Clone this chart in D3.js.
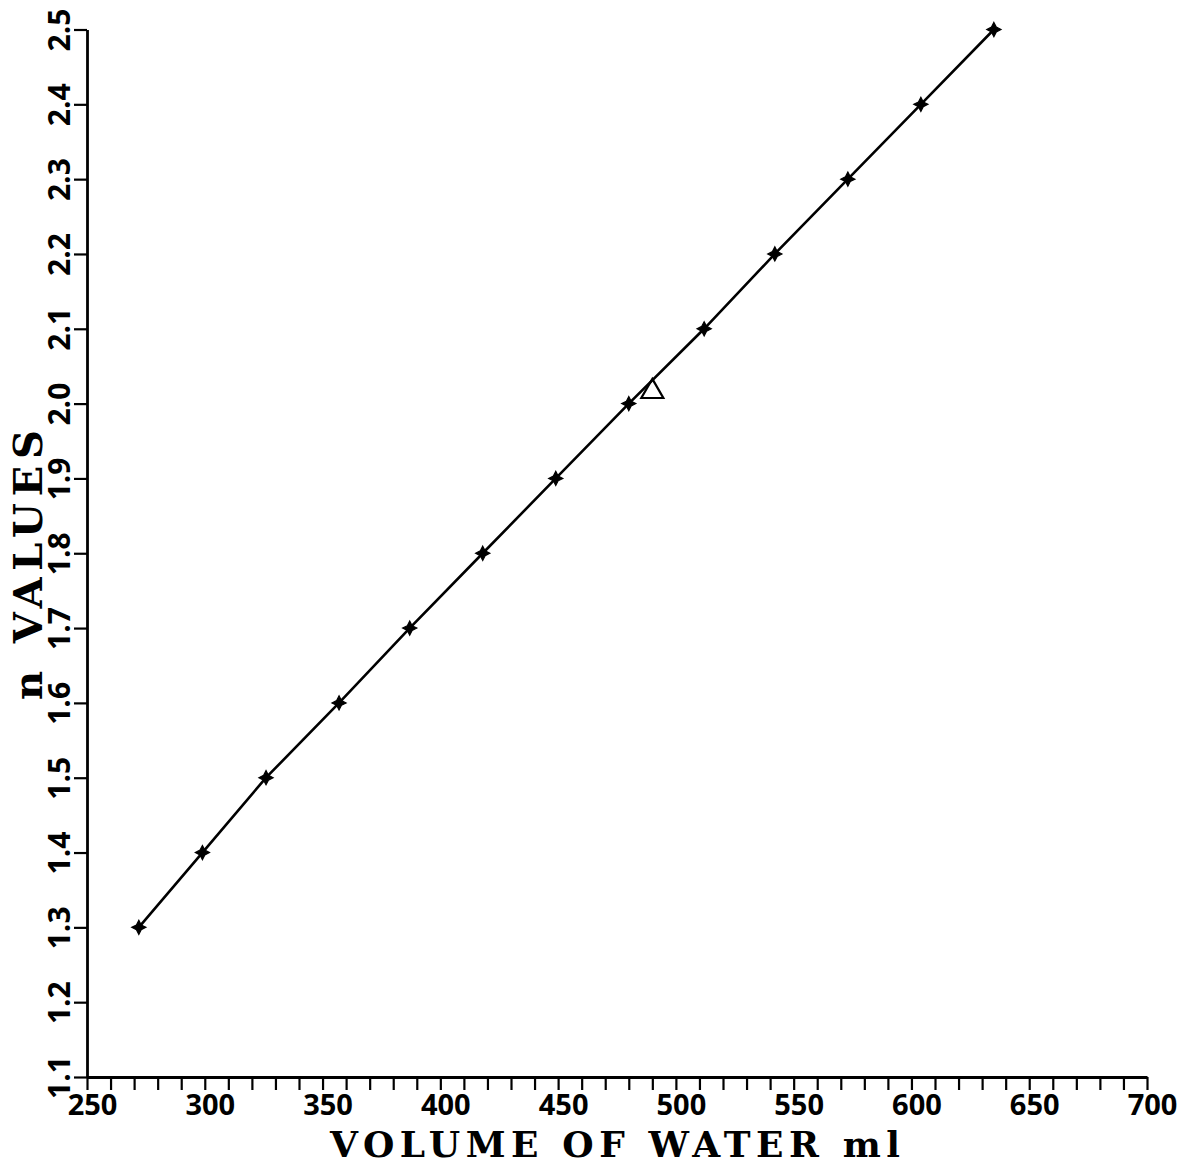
<!DOCTYPE html>
<html>
<head>
<meta charset="utf-8">
<script src="https://cdn.jsdelivr.net/npm/d3@7"></script>
<style>
  html, body { margin: 0; padding: 0; background: #fff; }
  svg { display: block; }
</style>
</head>
<body>
<script>
// "n" values against volume of water added
const volume = [272, 299, 326, 357, 387, 418, 449, 480, 512, 542, 573, 604, 635];
const nValue = [1.3, 1.4, 1.5, 1.6, 1.7, 1.8, 1.9, 2.0, 2.1, 2.2, 2.3, 2.4, 2.5];

// Single highlighted observation (open triangle)
const markVolume = [490];
const markN = [2.016];

// Axis ticks
const xTicks = d3.range(250, 701, 10);
const xLabelEvery = 50;
const yTicks = d3.range(11, 26).map(v => v / 10);

const xTitle = "VOLUME OF WATER ml";
const yTitle = "n VALUES";

const W = 1192, H = 1167;
const svg = d3.select("body").append("svg").attr("width", W).attr("height", H);

const x = d3.scaleLinear().domain([250, 700]).range([87, 1147]);
const y = d3.scaleLinear().domain([1.1, 2.5]).range([1077, 29.5]);

const tickFont = "'Open Sans', 'DejaVu Sans', sans-serif";
const titleFont = "'DejaVu Serif', 'Liberation Serif', serif";

// x axis
const gx = svg.append("g").attr("transform", `translate(0,${y(1.1)})`)
  .call(d3.axisBottom(x).tickValues(xTicks).tickSize(13).tickSizeOuter(0)
    .tickFormat(d => d % xLabelEvery === 0 ? d3.format("d")(d) : ""));
gx.select(".domain").attr("stroke", "#000").attr("stroke-width", 2.8);
gx.selectAll(".tick line").attr("stroke", "#000").attr("stroke-width", 2.2);
gx.selectAll(".tick text")
  .attr("y", 38).attr("dy", null).attr("x", 5)
  .attr("fill", "#000")
  .style("font-family", tickFont).style("font-weight", "700").style("font-size", "29px");

// y axis
const gy = svg.append("g").attr("transform", `translate(${x(250)},0)`)
  .call(d3.axisLeft(y).tickValues(yTicks).tickSize(13).tickSizeOuter(0).tickFormat(d3.format(".1f")));
gy.select(".domain").attr("stroke", "#000").attr("stroke-width", 2.8);
gy.selectAll(".tick line").attr("stroke", "#000").attr("stroke-width", 2.2);
gy.selectAll(".tick text")
  .attr("x", null).attr("dy", null)
  .attr("text-anchor", "middle")
  .attr("transform", "translate(-17,0) rotate(-90)")
  .attr("fill", "#000")
  .style("font-family", tickFont).style("font-weight", "700").style("font-size", "30px");

// data line
const pts = volume.map((v, i) => [v, nValue[i]]);
svg.append("path")
  .datum(pts)
  .attr("fill", "none")
  .attr("stroke", "#000")
  .attr("stroke-width", 2.6)
  .attr("d", d3.line().x(d => x(d[0])).y(d => y(d[1])));

// four-pointed star markers
const star4 = {
  draw(ctx, size) {
    const r = Math.sqrt(size), q = r * 0.34;
    ctx.moveTo(0, -r);
    ctx.lineTo(q, -q);
    ctx.lineTo(r, 0);
    ctx.lineTo(q, q);
    ctx.lineTo(0, r);
    ctx.lineTo(-q, q);
    ctx.lineTo(-r, 0);
    ctx.lineTo(-q, -q);
    ctx.closePath();
  }
};
svg.append("g").selectAll("path")
  .data(pts)
  .join("path")
  .attr("transform", d => `translate(${x(d[0])},${y(d[1])})`)
  .attr("d", d3.symbol(star4, 50))
  .attr("fill", "#000")
  .attr("stroke", "#000")
  .attr("stroke-width", 1.2);

// open triangle marker
svg.append("g").selectAll("path")
  .data(markVolume.map((v, i) => [v, markN[i]]))
  .join("path")
  .attr("transform", d => `translate(${x(d[0])},${y(d[1])})`)
  .attr("d", d3.symbol(d3.symbolTriangle, 210))
  .attr("fill", "none")
  .attr("stroke", "#000")
  .attr("stroke-width", 2.2);

// axis titles
svg.append("text")
  .attr("x", 615).attr("y", 1157)
  .attr("text-anchor", "middle")
  .attr("textLength", 570).attr("lengthAdjust", "spacing")
  .style("font-family", titleFont).style("font-weight", "700").style("font-size", "36px")
  .attr("fill", "#000")
  .text(xTitle);

svg.append("text")
  .attr("transform", "translate(42,565) rotate(-90)")
  .attr("text-anchor", "middle")
  .attr("textLength", 270).attr("lengthAdjust", "spacing")
  .style("font-family", titleFont).style("font-weight", "700").style("font-size", "40px")
  .attr("fill", "#000")
  .text(yTitle);
</script>
</body>
</html>
